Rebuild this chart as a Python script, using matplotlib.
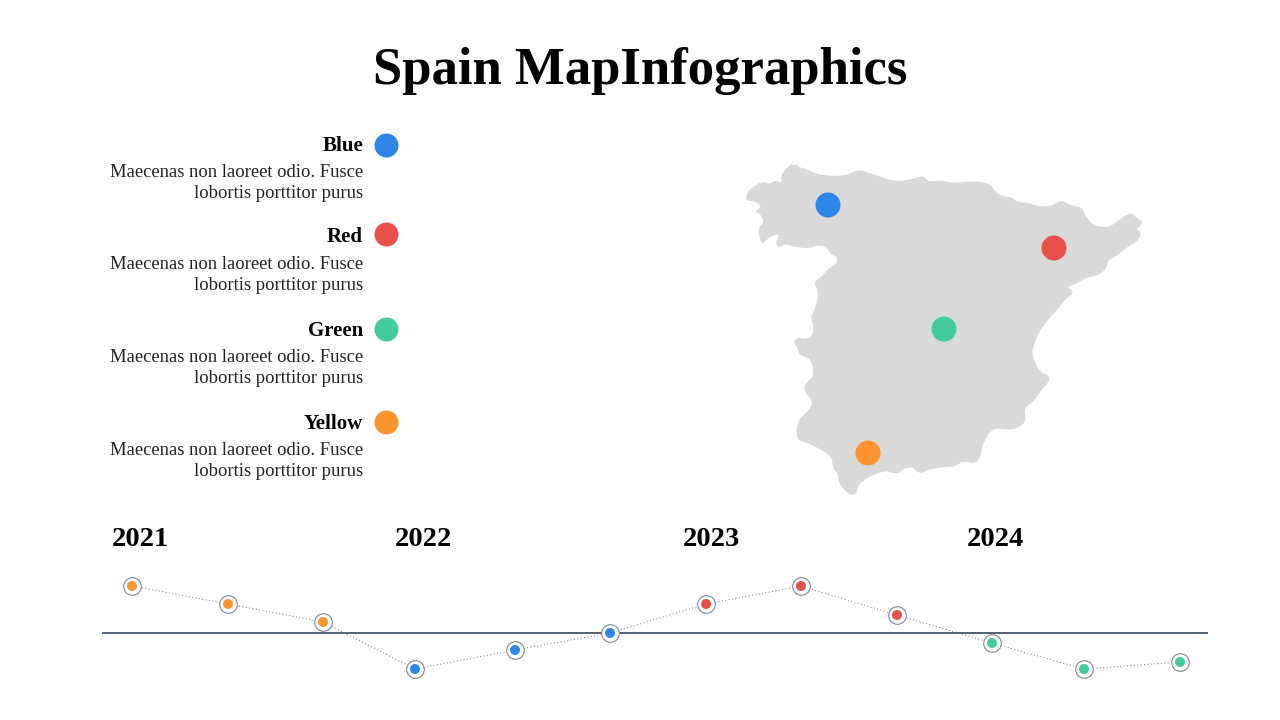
import matplotlib
matplotlib.use('Agg')
import matplotlib.pyplot as plt
from matplotlib.path import Path
from matplotlib.patches import PathPatch

BLUE = '#2e86e8'
RED = '#e8504a'
GREEN = '#43cd9f'
ORANGE = '#fe9430'
GREY = '#d9d9d9'
NAVY = '#44546a'
SERIF = ['Liberation Serif', 'DejaVu Serif']

title = 'Spain MapInfographics'
body = 'Maecenas non laoreet odio. Fusce\nlobortis porttitor purus'

legend_names = ['Blue', 'Red', 'Green', 'Yellow']
legend_colors = [BLUE, RED, GREEN, ORANGE]
legend_y = [145, 234, 329, 422]
title_y = [146, 237, 331, 424]
body_y = [183, 275, 368, 461]

pin_x = [828, 1054, 944, 868]
pin_y = [205, 248, 329, 453]

years = ['2021', '2022', '2023', '2024']
year_x = [112, 395, 683, 967]

time_x = [132, 228, 323, 415, 515, 610, 706, 801, 897, 992, 1084, 1180]
time_y = [586, 604, 622, 669, 650, 633, 604, 586, 615, 643, 669, 662]
time_colors = [ORANGE, ORANGE, ORANGE, BLUE, BLUE, BLUE, RED, RED, RED, GREEN, GREEN, GREEN]

# outline, clockwise from the north west corner
map_x = [746, 748, 753, 762, 770, 775, 780, 783, 781, 787, 792, 793, 796, 798, 805, 812, 823, 837, 850, 858,
         867, 877, 887, 898, 912, 923, 927, 937, 943, 952, 970, 985, 992, 994, 1002, 1013, 1015, 1030, 1037, 1045,
         1053, 1058, 1065, 1070, 1082, 1084, 1088, 1092, 1102, 1112, 1122, 1132, 1136, 1142, 1140, 1135, 1141, 1137, 1127, 1117,
         1107, 1106, 1098, 1088, 1078, 1064, 1070, 1073, 1063, 1058, 1047, 1037, 1032, 1031, 1035, 1042, 1046, 1050, 1040, 1033,
         1023, 1026, 1018, 1007, 993, 983, 979, 972, 963, 955, 945, 927, 922, 915, 914, 902, 899, 890, 888, 875,
         862, 857, 856, 852, 845, 839, 839, 833, 833, 823, 808, 797, 798, 802, 813, 812, 805, 806, 815, 812,
         800, 798, 794, 797, 805, 812, 815, 811, 817, 819, 814, 823, 828, 837, 838, 831, 828, 817, 810, 793,
         785, 779, 776, 781, 773, 767, 763, 760, 759, 765, 761, 755, 763, 755]
map_y = [201, 192, 188, 182, 185, 181, 183, 182, 176, 169, 164, 168, 164, 168, 169, 173, 176, 177, 175, 170,
         173, 176, 180, 182, 180, 176, 182, 182, 181, 184, 182, 183, 187, 192, 197, 198, 202, 204, 207, 207,
         206, 202, 202, 206, 208, 215, 220, 225, 228, 227, 218, 213, 219, 221, 226, 229, 233, 241, 246, 255,
         260, 268, 275, 276, 282, 288, 289, 293, 300, 308, 320, 333, 350, 352, 365, 375, 374, 380, 390, 402,
         407, 420, 428, 429, 427, 440, 460, 463, 460, 466, 466, 469, 473, 470, 466, 468, 473, 472, 470, 473,
         480, 487, 493, 495, 490, 482, 473, 468, 457, 450, 442, 440, 423, 417, 407, 398, 392, 383, 377, 358,
         355, 347, 343, 338, 340, 337, 330, 317, 307, 290, 282, 277, 269, 265, 256, 254, 247, 244, 248, 246,
         243, 247, 243, 233, 235, 238, 244, 238, 227, 223, 213, 212, 207, 200]


def dot_size(radius):
    # scatter wants points squared, the canvas is in pixels at dpi 100
    return (2 * radius * 0.72) ** 2


def smooth_outline(xs, ys):
    # quadratic curves between edge midpoints, so the coast has no hard corners
    n = len(xs)
    mids = [((xs[i] + xs[(i + 1) % n]) / 2, (ys[i] + ys[(i + 1) % n]) / 2) for i in range(n)]
    verts = [mids[-1]]
    codes = [Path.MOVETO]
    for i in range(n):
        verts += [(xs[i], ys[i]), mids[i]]
        codes += [Path.CURVE3, Path.CURVE3]
    return Path(verts, codes)


fig = plt.figure(figsize=(12.8, 7.2), dpi=100)
ax = fig.add_axes([0, 0, 1, 1])
ax.set_xlim(0, 1280)
ax.set_ylim(720, 0)
ax.axis('off')

ax.text(640, 71, title, ha='center', va='center', family=SERIF, weight='bold', fontsize=38, color='black')

for i in range(len(legend_names)):
    ax.text(363, title_y[i], legend_names[i], ha='right', va='center', family=SERIF, weight='bold',
            fontsize=15, color='black')
    ax.text(363, body_y[i], body, ha='right', va='center', multialignment='right', family=SERIF,
            fontsize=13.4, linespacing=1.28, color='#222222')
    ax.scatter(386, legend_y[i], s=dot_size(12), color=legend_colors[i], linewidths=0, zorder=3)

ax.add_patch(PathPatch(smooth_outline(map_x, map_y), facecolor=GREY, edgecolor=GREY, linewidth=1))
ax.scatter(pin_x, pin_y, s=dot_size(12.5), c=legend_colors, linewidths=0, zorder=3)

for i in range(len(years)):
    ax.text(year_x[i], 539, years[i], ha='left', va='center', family=SERIF, weight='bold', fontsize=20.5, color='black')

ax.plot([102, 1208], [633, 633], color=NAVY, linewidth=1.3, solid_capstyle='butt', zorder=1)
ax.plot(time_x, time_y, color='#6b7688', linewidth=0.7, linestyle=(0, (1, 2.5)), zorder=2)
ax.scatter(time_x, time_y, s=dot_size(8.8), facecolor='white', edgecolor='#7f8796', linewidths=0.8, zorder=3)
ax.scatter(time_x, time_y, s=dot_size(5), c=time_colors, linewidths=0, zorder=4)

fig.savefig('out.png', dpi=100)
